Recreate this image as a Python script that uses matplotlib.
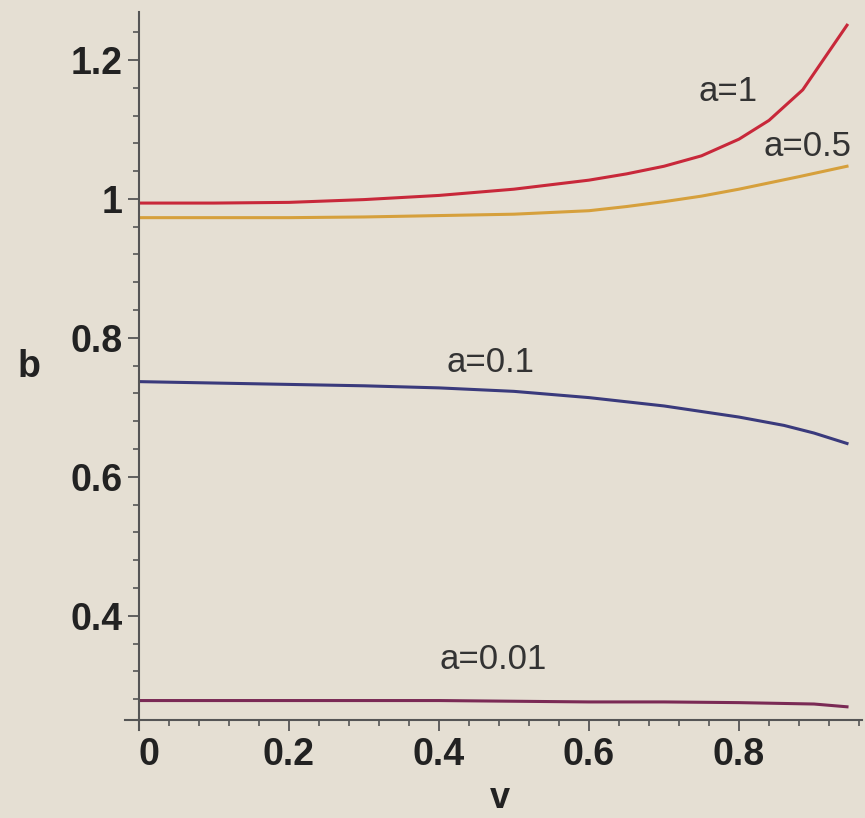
import numpy as np
import matplotlib.pyplot as plt
from matplotlib.ticker import MultipleLocator, FixedLocator

# curvas b(v) para cada valor de a
x_a1 = [0, 0.1, 0.2, 0.3, 0.4, 0.5, 0.6, 0.65, 0.7, 0.75, 0.8, 0.84, 0.885, 0.944]
y_a1 = [0.994, 0.994, 0.995, 0.999, 1.005, 1.014, 1.027, 1.036, 1.047, 1.062, 1.086, 1.113, 1.157, 1.25]

x_a05 = [0, 0.2, 0.3, 0.4, 0.5, 0.6, 0.65, 0.7, 0.75, 0.8, 0.88, 0.944]
y_a05 = [0.973, 0.973, 0.974, 0.976, 0.978, 0.983, 0.989, 0.996, 1.004, 1.014, 1.032, 1.047]

x_a01 = [0, 0.1, 0.2, 0.3, 0.4, 0.5, 0.6, 0.7, 0.8, 0.86, 0.9, 0.944]
y_a01 = [0.737, 0.735, 0.733, 0.731, 0.728, 0.723, 0.714, 0.702, 0.686, 0.674, 0.663, 0.648]

x_a001 = [0, 0.2, 0.4, 0.5, 0.6, 0.7, 0.8, 0.9, 0.944]
y_a001 = [0.278, 0.278, 0.278, 0.277, 0.276, 0.276, 0.275, 0.273, 0.269]

x_ticks = [0, 0.2, 0.4, 0.6, 0.8]
x_labels = ["0", "0.2", "0.4", "0.6", "0.8"]
y_ticks = [0.4, 0.6, 0.8, 1.0, 1.2]
y_labels = ["0.4", "0.6", "0.8", "1", "1.2"]

bg = "#e5dfd3"
axis_color = "#555555"
plt.rcParams["font.family"] = ["Liberation Sans", "DejaVu Sans"]

W, H = 865, 818
fig = plt.figure(figsize=(W / 100, H / 100), dpi=100, facecolor=bg)
ax = fig.add_axes([139 / W, (H - 720) / H, (862 - 139) / W, (720 - 12) / H])
ax.set_facecolor(bg)

ax.plot(x_a1, y_a1, color="#c8283a", lw=2.2)
ax.plot(x_a05, y_a05, color="#d6a03c", lw=2.2)
ax.plot(x_a01, y_a01, color="#3a3a7c", lw=2.2)
ax.plot(x_a001, y_a001, color="#7a2a55", lw=2.2)

ax.set_xlim(0, 0.964)
ax.set_ylim(0.25, 1.269)

# eixos no estilo Maple
for side in ("top", "right"):
    ax.spines[side].set_visible(False)
for side in ("left", "bottom"):
    ax.spines[side].set_color(axis_color)
    ax.spines[side].set_linewidth(1.5)
ax.plot([-14 / 723, 0], [0, 0], transform=ax.transAxes, color=axis_color,
        lw=1.5, clip_on=False)
ax.plot([0, 0], [-10 / 708, 0], transform=ax.transAxes, color=axis_color,
        lw=1.5, clip_on=False)

ax.xaxis.set_major_locator(FixedLocator(x_ticks))
ax.set_xticklabels(x_labels)
ax.xaxis.set_minor_locator(MultipleLocator(0.04))
ax.yaxis.set_major_locator(FixedLocator(y_ticks))
ax.set_yticklabels(y_labels)
ax.yaxis.set_minor_locator(MultipleLocator(0.04))

ax.tick_params(which="major", length=8, width=1.3, color=axis_color,
               labelsize=27, pad=4)
ax.tick_params(which="minor", length=4, width=1.2, color=axis_color)
for lab in ax.get_xticklabels() + ax.get_yticklabels():
    lab.set_fontweight("bold")
    lab.set_color("#222222")
ax.get_xticklabels()[0].set_horizontalalignment("left")

# rótulos das curvas
txt = dict(fontsize=25, color="#333333", ha="center", va="center")
ax.text(0.785, 1.155, "a=1", **txt)
ax.text(0.891, 1.075, "a=0.5", **txt)
ax.text(0.469, 0.765, "a=0.1", **txt)
ax.text(0.472, 0.337, "a=0.01", **txt)

fig.text(29 / W, 1 - 367 / H, "b", fontsize=27, fontweight="bold",
         color="#222222", ha="center", va="center")
fig.text(500 / W, 1 - 798 / H, "v", fontsize=26, fontweight="bold",
         color="#222222", ha="center", va="center")

fig.savefig("out.png", dpi=100, facecolor=bg)
